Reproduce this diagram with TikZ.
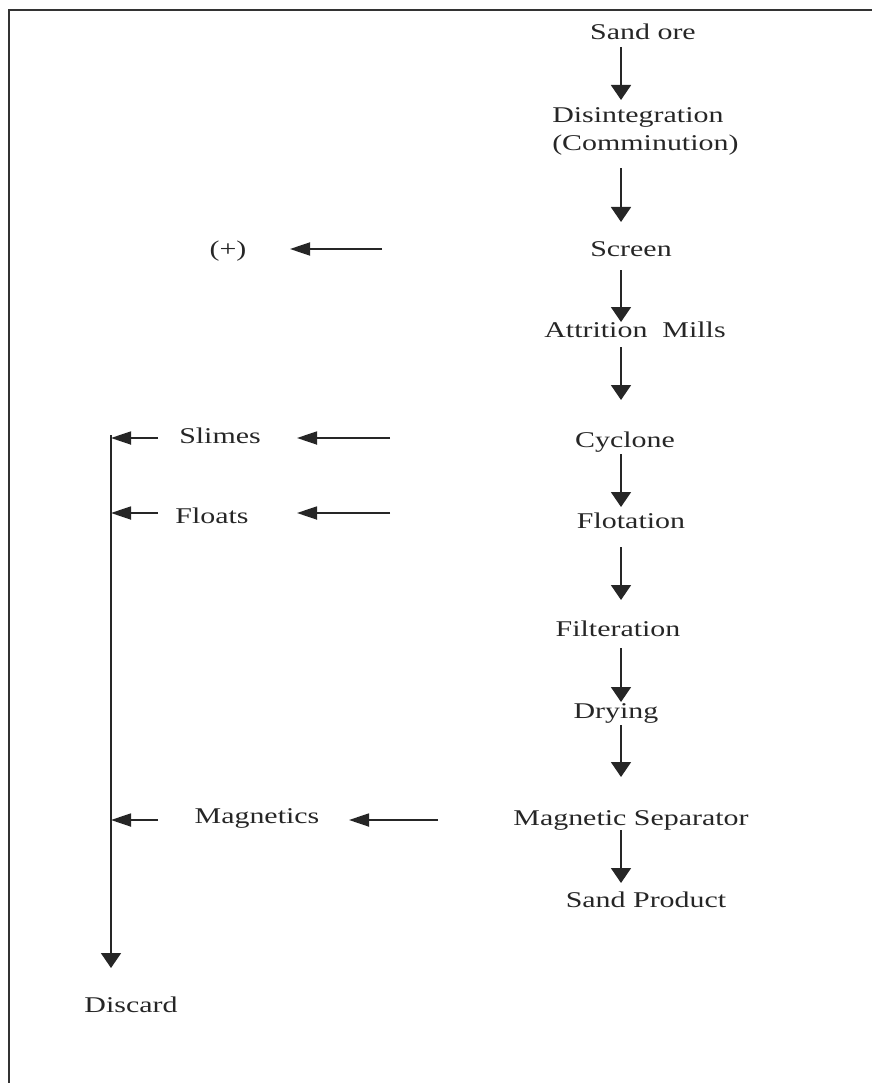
\documentclass[tikz,border=0pt]{standalone}
\usepackage{fontspec}
\setmainfont{Liberation Serif}
\usetikzlibrary{arrows.meta}

\begin{document}
\begin{tikzpicture}[x=1pt, y=-1pt,
	lbl/.style={font=\fontsize{22.5}{28}\selectfont, xscale=1.33, inner sep=0pt, text=black!85},
	vflow/.style={draw=black!85, line width=1.8pt, -{Triangle[length=15pt, width=20pt]}},
	hflow/.style={draw=black!85, line width=1.8pt, -{Triangle[length=20pt, width=13pt]}},
	frame/.style={draw=black!80, line width=2.7pt}]
	\useasboundingbox (0,0) rectangle (872,1083);
	\draw[frame] (9,1083) -- (9,10) -- (872,10);

	% main line
	\node[lbl, anchor=base] (ore) at (643,40) {Sand ore};
	\node[lbl, anchor=north west, align=left] (disint) at (552,107) {Disintegration\\(Comminution)};
	\node[lbl, anchor=base] (screen) at (631,256) {Screen};
	\node[lbl, anchor=base] (attr) at (635,337) {Attrition\ \ Mills};
	\node[lbl, anchor=base] (cyclone) at (625,447) {Cyclone};
	\node[lbl, anchor=base] (flot) at (631,528) {Flotation};
	\node[lbl, anchor=base] (filter) at (618,636) {Filteration};
	\node[lbl, anchor=base] (drying) at (616,718) {Drying};
	\node[lbl, anchor=base] (magsep) at (631,825) {Magnetic Separator};
	\node[lbl, anchor=base] (product) at (646,907) {Sand Product};

	% side products
	\node[lbl, anchor=base] (plus) at (228,256) {(+)};
	\node[lbl, anchor=base] (slimes) at (220,443) {Slimes};
	\node[lbl, anchor=base] (floats) at (212,523) {Floats};
	\node[lbl, anchor=base] (magnetics) at (257,823) {Magnetics};
	\node[lbl, anchor=base] (discard) at (131,1012) {Discard};

	\coordinate (spine) at (621,0);
	\coordinate (bus) at (111,435);

	\draw[vflow, shorten <=7pt, shorten >=7pt] (ore.base -| spine) -- (disint.north -| spine);
	\draw[vflow, shorten <=13pt, shorten >=34pt] (disint.south -| spine) -- (screen.base -| spine);
	\draw[vflow, shorten <=14pt, shorten >=15pt] (screen.base -| spine) -- (attr.base -| spine);
	\draw[vflow, shorten <=10pt, shorten >=47pt] (attr.base -| spine) -- (cyclone.base -| spine);
	\draw[vflow, shorten <=7pt, shorten >=21pt] (cyclone.base -| spine) -- (flot.base -| spine);
	\draw[vflow, shorten <=19pt, shorten >=36pt] (flot.base -| spine) -- (filter.base -| spine);
	\draw[vflow, shorten <=12pt, shorten >=16pt] (filter.base -| spine) -- (drying.base -| spine);
	\draw[vflow, shorten <=7pt, shorten >=48pt] (drying.base -| spine) -- (magsep.base -| spine);
	\draw[vflow, shorten <=5pt, shorten >=24pt] (magsep.base -| spine) -- (product.base -| spine);

	% rejects to the left
	\coordinate (r0) at ([yshift=7pt]screen.base);
	\coordinate (r1) at ([yshift=9pt]cyclone.base);
	\coordinate (r2) at ([yshift=15pt]flot.base);
	\coordinate (r3) at ([yshift=5pt]magsep.base);
	\draw[hflow, shorten <=249pt, shorten >=62pt] (r0) -- (r0 -| plus.base);
	\draw[hflow, shorten <=235pt, shorten >=77pt] (r1) -- (r1 -| slimes.base);
	\draw[hflow, shorten <=241pt, shorten >=85pt] (r2) -- (r2 -| floats.base);
	\draw[hflow, shorten <=193pt, shorten >=92pt] (r3) -- (r3 -| magnetics.base);

	\draw[hflow, shorten <=62pt] (r1 -| slimes.base) -- (r1 -| bus);
	\draw[hflow, shorten <=54pt] (r2 -| floats.base) -- (r2 -| bus);
	\draw[hflow, shorten <=99pt] (r3 -| magnetics.base) -- (r3 -| bus);
	\draw[vflow, shorten >=44pt] (bus) -- (bus |- discard.base);
\end{tikzpicture}
\end{document}
